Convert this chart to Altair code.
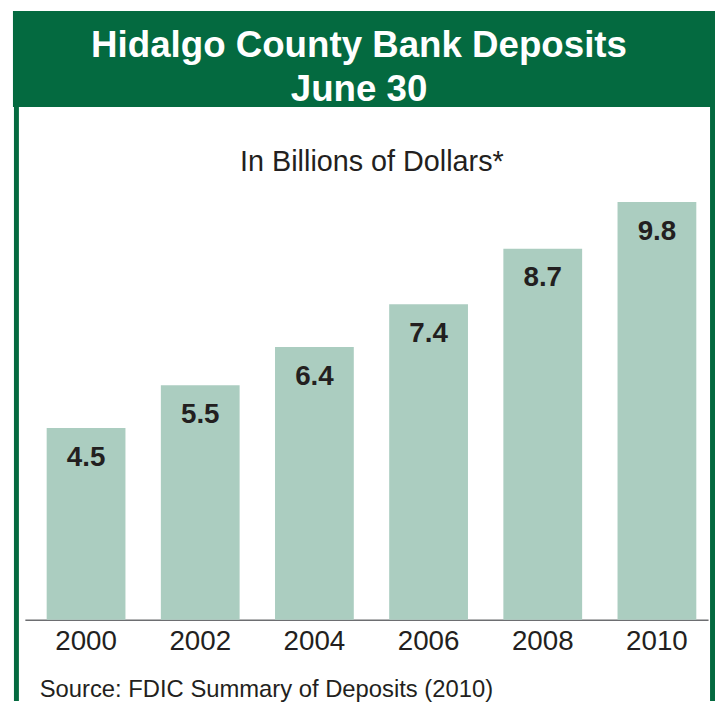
import altair as alt
import pandas as pd

# ---- data ----
years = ["2000", "2002", "2004", "2006", "2008", "2010"]
deposits = [4.5, 5.5, 6.4, 7.4, 8.7, 9.8]

title_line1 = "Hidalgo County Bank Deposits"
title_line2 = "June 30"
subtitle_text = "In Billions of Dollars*"
source_text = "Source: FDIC Summary of Deposits (2010)"

df = pd.DataFrame({"year": years, "value": deposits})
one = pd.DataFrame({"k": [0]})

GREEN = "#046a40"
BAR = "#abcdc0"
TEXT = "#231f20"
FONT = "Liberation Sans, Arial, Helvetica, sans-serif"

W, H = 689, 430

x = alt.X(
    "year:N", sort=years, title=None,
    scale=alt.Scale(paddingInner=0.31, paddingOuter=0.147, align=0.65),
    axis=alt.Axis(labelAngle=0, ticks=False, tickSize=0, domainColor="#6d6e71",
                  domainWidth=1.5, labelFontSize=28, labelFont=FONT, labelColor=TEXT,
                  labelBaseline="alphabetic", labelPadding=30, grid=False),
)
y = alt.Y("value:Q", scale=alt.Scale(domain=[0, 10], nice=False), axis=None)

base = alt.Chart(df)
bars = base.mark_bar(color=BAR).encode(x=x, y=y)
labels = base.mark_text(font=FONT, fontSize=28, fontWeight="bold", color=TEXT,
                        baseline="alphabetic", dy=38).encode(
    x=x, y=y, text=alt.Text("value:Q", format=".1f"))

deco = alt.Chart(one)
band = deco.mark_rect(color=GREEN).encode(
    x=alt.value(-12), x2=alt.value(696), y=alt.value(-184), y2=alt.value(-87))
left_line = deco.mark_rule(color=GREEN, strokeWidth=5).encode(
    x=alt.value(-8.5), y=alt.value(-184), y2=alt.value(512))
right_line = deco.mark_rule(color=GREEN, strokeWidth=5).encode(
    x=alt.value(693.5), y=alt.value(-184), y2=alt.value(512))
t1 = deco.mark_text(text=title_line1, font=FONT, fontSize=37, fontWeight="bold",
                    color="white", align="center", baseline="alphabetic").encode(
    x=alt.value(337), y=alt.value(-138))
t2 = deco.mark_text(text=title_line2, font=FONT, fontSize=37, fontWeight="bold",
                    color="white", align="center", baseline="alphabetic").encode(
    x=alt.value(337), y=alt.value(-93))
sub = deco.mark_text(text=subtitle_text, font=FONT, fontSize=29, color=TEXT,
                     align="center", baseline="alphabetic").encode(
    x=alt.value(350), y=alt.value(-23))
src = deco.mark_text(text=source_text, font=FONT, fontSize=24, color=TEXT,
                     align="left", baseline="alphabetic").encode(
    x=alt.value(15), y=alt.value(508))

chart = alt.layer(band, left_line, right_line, t1, t2, sub, bars, labels, src).properties(
    width=W, height=H,
    autosize=alt.AutoSizeParams(type="none"),
    padding={"left": 17, "top": 184, "right": 7, "bottom": 82},
    background="white",
).configure_view(strokeWidth=0)

chart.save("out.html", embed_options={"renderer": "svg", "actions": False})
